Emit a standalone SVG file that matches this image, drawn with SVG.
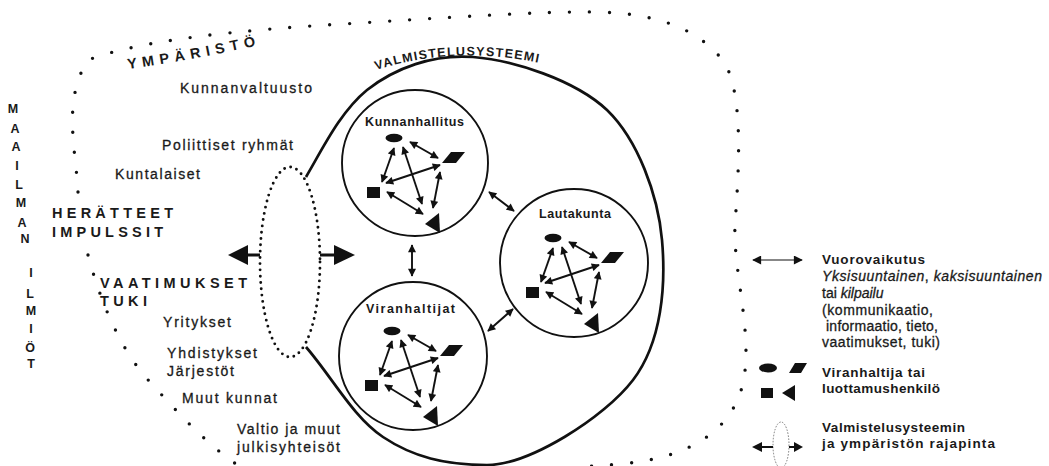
<svg xmlns="http://www.w3.org/2000/svg" xmlns:xlink="http://www.w3.org/1999/xlink" width="1049" height="466" viewBox="0 0 1049 466">
<style>
.t{font-family:"Liberation Sans",Arial,sans-serif;fill:#1a1a1a}
.r{font-size:14px;stroke:#1a1a1a;stroke-width:0.3}
.b{font-size:13.5px;font-weight:bold}
.cap{font-size:14.5px;font-weight:bold}
.lab{font-size:12.5px;font-weight:bold}
.v{font-size:12.5px;font-weight:bold;text-anchor:middle}
.dots{fill:none;stroke:#111;stroke-width:3.4;stroke-linecap:round;stroke-dasharray:0 20}
.fine{fill:none;stroke:#111;stroke-width:2.9;stroke-linecap:round;stroke-dasharray:0 6.3}
.circ{fill:none;stroke:#111;stroke-width:1.9}
.arr{fill:none;stroke:#111;stroke-width:1.9;marker-start:url(#ah);marker-end:url(#ah)}
.sh{fill:#111}
</style>
<defs>
<marker id="ah" viewBox="0 0 10 10" refX="9" refY="5" markerWidth="10" markerHeight="8" markerUnits="userSpaceOnUse" orient="auto-start-reverse"><path d="M0,0 L10,5 L0,10 z" fill="#111"/></marker>
<marker id="ahL" viewBox="0 0 10 10" refX="9" refY="5" markerWidth="12" markerHeight="9" markerUnits="userSpaceOnUse" orient="auto-start-reverse"><path d="M0,0 L10,5 L0,10 z" fill="#111"/></marker>
<g id="net">
<ellipse class="sh" cx="-21" cy="-25" rx="8.5" ry="4.2"/>
<polygon class="sh" points="27,0 36,-11 50,-11 41,0"/>
<rect class="sh" x="-48" y="24" width="13" height="11"/>
<polygon class="sh" points="10,61 24,50 25,70"/>
<line class="arr" x1="-21" y1="-15" x2="-33" y2="19"/>
<line class="arr" x1="-12" y1="-16" x2="7" y2="41"/>
<line class="arr" x1="-5" y1="-21" x2="23" y2="-5"/>
<line class="arr" x1="25" y1="2" x2="-29" y2="20"/>
<line class="arr" x1="25" y1="9" x2="18" y2="45"/>
<line class="arr" x1="-28" y1="29" x2="8" y2="51"/>
</g>
<path id="pY" d="M128,69 Q195,60 272,42"/>
<path id="pV" d="M376,70 Q470,40 575,72"/>
</defs>

<g id="environment">
<path class="dots" d="M78,192 C76,150 62,100 88,60 C140,40 240,30 343,24 C440,18 540,11 600,12 C660,14 700,30 724,62 C745,95 738,180 735,225 C733,270 752,330 744,378 C735,430 690,458 620,464 L570,468"/>
<path class="dots" d="M88,255 C100,300 120,350 150,382 C180,415 210,448 245,470"/>
<text class="t cap" font-size="15" letter-spacing="5.5"><textPath href="#pY" xlink:href="#pY">YMPÄRISTÖ</textPath></text>
<text class="t r" x="180" y="93" textLength="132" lengthAdjust="spacing">Kunnanvaltuusto</text>
<text class="t r" x="162" y="150" textLength="131" lengthAdjust="spacing">Poliittiset ryhmät</text>
<text class="t r" x="115" y="179" textLength="85" lengthAdjust="spacing">Kuntalaiset</text>
<text class="t r" x="163" y="327" textLength="68" lengthAdjust="spacing">Yritykset</text>
<text class="t r" x="167" y="358" textLength="90" lengthAdjust="spacing">Yhdistykset</text>
<text class="t r" x="167" y="376" textLength="67" lengthAdjust="spacing">Järjestöt</text>
<text class="t r" x="182" y="403" textLength="95" lengthAdjust="spacing">Muut kunnat</text>
<text class="t r" x="237" y="434" textLength="103" lengthAdjust="spacing">Valtio ja muut</text>
<text class="t r" x="237" y="452" textLength="103" lengthAdjust="spacing">julkisyhteisöt</text>
<text class="t cap" x="52" y="218" textLength="121" lengthAdjust="spacing">HERÄTTEET</text>
<text class="t cap" x="52" y="237" textLength="111" lengthAdjust="spacing">IMPULSSIT</text>
<text class="t cap" x="100" y="288" textLength="147" lengthAdjust="spacing">VAATIMUKSET</text>
<text class="t cap" x="100" y="306" textLength="47" lengthAdjust="spacing">TUKI</text>
</g>

<g id="world-label">
<text class="t v" x="13" y="113">M</text>
<text class="t v" x="15" y="133">A</text>
<text class="t v" x="16" y="151">A</text>
<text class="t v" x="17" y="170">I</text>
<text class="t v" x="19" y="189">L</text>
<text class="t v" x="21" y="207">M</text>
<text class="t v" x="22" y="227">A</text>
<text class="t v" x="25" y="243">N</text>
<text class="t v" x="31" y="277">I</text>
<text class="t v" x="30" y="298">L</text>
<text class="t v" x="31" y="315">M</text>
<text class="t v" x="31" y="333">I</text>
<text class="t v" x="30" y="352">Ö</text>
<text class="t v" x="31" y="368">T</text>
</g>

<g id="valmistelusysteemi">
<path fill="none" stroke="#111" stroke-width="2.7" d="M306,177 C322,150 340,112 367,90 C395,68 433,54 473,57 C513,60 575,80 607,110 C638,140 658,195 662,240 C666,285 662,342 633,380 C604,418 529,465 487,465 C445,465 413,457 383,437 C353,417 332,377 306,347"/>
<text class="t lab" font-size="14" letter-spacing="1.3"><textPath href="#pV" xlink:href="#pV">VALMISTELUSYSTEEMI</textPath></text>
</g>

<g id="rajapinta">
<ellipse class="fine" cx="290" cy="262" rx="30" ry="95"/>
<rect class="sh" x="246" y="253.5" width="14" height="3"/>
<polygon class="sh" points="228,255 248,245 248,265"/>
<rect class="sh" x="320" y="253.5" width="15" height="3"/>
<polygon class="sh" points="355,255 334,245 334,265"/>
</g>

<g id="kunnanhallitus">
<circle class="circ" cx="415" cy="163" r="73"/>
<text class="t lab" x="365" y="126" textLength="99" lengthAdjust="spacing">Kunnanhallitus</text>
<use href="#net" xlink:href="#net" transform="translate(415,163)"/>
</g>

<g id="lautakunta">
<circle class="circ" cx="574" cy="263" r="74"/>
<text class="t lab" x="539" y="218" textLength="72" lengthAdjust="spacing">Lautakunta</text>
<use href="#net" xlink:href="#net" transform="translate(574,263)"/>
</g>

<g id="viranhaltijat">
<circle class="circ" cx="413" cy="356" r="74"/>
<text class="t lab" x="366" y="313" textLength="89" lengthAdjust="spacing">Viranhaltijat</text>
<use href="#net" xlink:href="#net" transform="translate(413,356)"/>
</g>

<g id="connectors">
<line class="arr" x1="412" y1="245" x2="412" y2="276"/>
<line class="arr" x1="489" y1="192" x2="514" y2="211"/>
<line class="arr" x1="488" y1="331" x2="513" y2="309"/>
</g>

<g id="legend">
<line x1="753" y1="260" x2="802" y2="260" stroke="#111" stroke-width="1.2" marker-start="url(#ahL)" marker-end="url(#ahL)"/>
<text class="t b" x="822" y="264" textLength="103" lengthAdjust="spacing">Vuorovaikutus</text>
<text class="t r" font-size="13" x="822" y="281" textLength="220" lengthAdjust="spacing"><tspan font-style="italic">Yksisuuntainen</tspan>, <tspan font-style="italic">kaksisuuntainen</tspan></text>
<text class="t r" font-size="13" x="822" y="298">tai <tspan font-style="italic">kilpailu</tspan></text>
<text class="t r" font-size="13" x="822" y="315" textLength="111" lengthAdjust="spacing">(kommunikaatio,</text>
<text class="t r" font-size="13" x="826" y="331" textLength="112" lengthAdjust="spacing">informaatio, tieto,</text>
<text class="t r" font-size="13" x="822" y="347" textLength="118" lengthAdjust="spacing">vaatimukset, tuki)</text>
<ellipse class="sh" cx="768" cy="368" rx="9" ry="4.5"/>
<polygon class="sh" points="789,373 795,363 807,363 801,373"/>
<rect class="sh" x="761" y="388" width="12" height="10"/>
<polygon class="sh" points="782,393 795,385 795,401"/>
<text class="t b" x="822" y="377" textLength="103" lengthAdjust="spacing">Viranhaltija tai</text>
<text class="t b" x="822" y="393" textLength="118" lengthAdjust="spacing">luottamushenkilö</text>
<ellipse cx="781" cy="445" rx="8" ry="23" fill="none" stroke="#777" stroke-width="1" stroke-dasharray="1.5 1.5"/>
<rect class="sh" x="760" y="446" width="13" height="2"/>
<polygon class="sh" points="752,447 762,442 762,452"/>
<rect class="sh" x="789" y="446" width="6" height="2"/>
<polygon class="sh" points="803,447 794,442 794,452"/>
<text class="t b" x="822" y="432" textLength="143" lengthAdjust="spacing">Valmistelusysteemin</text>
<text class="t b" x="822" y="448" textLength="173" lengthAdjust="spacing">ja ympäristön rajapinta</text>
</g>
</svg>
